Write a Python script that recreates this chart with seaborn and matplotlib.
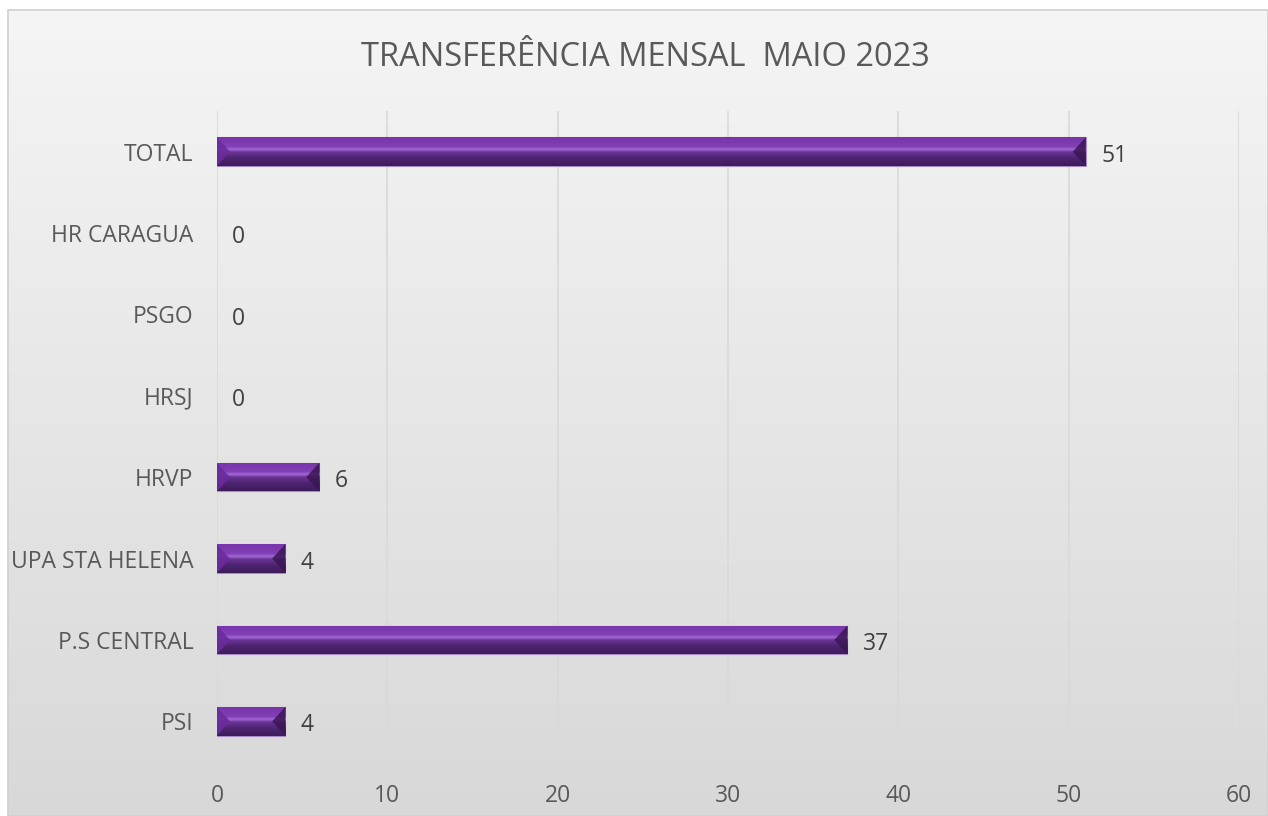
import numpy as np
import pandas as pd
import matplotlib
matplotlib.use('Agg')
import matplotlib.pyplot as plt
import seaborn as sns
from matplotlib.colors import LinearSegmentedColormap
from matplotlib.patches import Rectangle, Polygon

# --- Data ---
categories = ['TOTAL', 'HR CARAGUA', 'PSGO', 'HRSJ', 'HRVP', 'UPA STA HELENA', 'P.S CENTRAL', 'PSI']
values = [51, 0, 0, 0, 6, 4, 37, 4]
x_ticks = [0, 10, 20, 30, 40, 50, 60]

df = pd.DataFrame({'Unidade': categories, 'Transferencias': values})

sns.set_theme(style='white')
plt.rcParams['font.family'] = ['Open Sans', 'DejaVu Sans']

fig = plt.figure(figsize=(12.68, 8.16), dpi=100)
fig.patch.set_facecolor('white')

# Background gradient panel (chart area) with light border
bg = fig.add_axes([8 / 1268, 0, 1 - 8 / 1268, 1 - 10 / 816], zorder=0)
grad = np.linspace(0, 1, 256).reshape(-1, 1)
bg_cmap = LinearSegmentedColormap.from_list('bg', ['#f5f5f5', '#d8d8d8'])
bg.imshow(grad, aspect='auto', cmap=bg_cmap, extent=[0, 1, 0, 1], origin='upper')
bg.set_xlim(0, 1)
bg.set_ylim(0, 1)
bg.axis('off')
bg.add_patch(Rectangle((0, 0), 1, 1, transform=bg.transAxes, fill=False,
                       edgecolor='#d0d0d0', linewidth=1.2, clip_on=False))

ax = fig.add_axes([217 / 1268, 54 / 816, (1239 - 217) / 1268, (762 - 54 - 57) / 816], zorder=1)
ax.set_facecolor('none')

sns.barplot(data=df, x='Transferencias', y='Unidade', order=categories, color='#6f2f9f',
            width=0.35, edgecolor='#a88cc4', linewidth=0.8, ax=ax, zorder=3)

ax.set_xlim(0, 60)
ax.set_ylim(len(categories) - 0.5, -0.5)

# Bevel-like vertical gradient on each bar (top light, bottom dark)
bar_cmap = LinearSegmentedColormap.from_list(
    'bar', [(0.0, '#7a34ac'), (0.33, '#8040b4'), (0.42, '#a468d8'), (0.52, '#6a3494'),
            (0.72, '#4e2472'), (1.0, '#3e1c5a')])
bar_grad = np.linspace(0, 1, 128).reshape(-1, 1)
for p in ax.patches:
    w = p.get_width()
    if w <= 0:
        p.set_linewidth(0)
        continue
    x0, y0 = p.get_x(), p.get_y()
    h = p.get_height()
    im = ax.imshow(bar_grad, aspect='auto', cmap=bar_cmap,
                   extent=[x0, x0 + w, y0 + h, y0], origin='upper', zorder=4)
    im.set_clip_path(p)
    # bevelled ends: wedges at left and right of the bar
    dx = 13 / (ax.get_position().width * fig.bbox.width) * 60
    yc = y0 + h / 2
    left = Polygon([[x0, y0], [x0 + dx, yc], [x0, y0 + h]], closed=True,
                   facecolor='#6a2c9c', edgecolor='none', alpha=0.9, zorder=5)
    right = Polygon([[x0 + w, y0], [x0 + w - dx, yc], [x0 + w, y0 + h]], closed=True,
                    facecolor='#3a1654', edgecolor='none', alpha=0.85, zorder=5)
    ax.add_patch(left)
    ax.add_patch(right)

ax.set_xticks(x_ticks)
ax.grid(axis='x', color='#d9d9d9', linewidth=1.2, zorder=0)
ax.grid(axis='y', visible=False)
for s in ax.spines.values():
    s.set_visible(False)
ax.set_xlabel('')
ax.set_ylabel('')
ax.tick_params(axis='both', length=0, labelsize=16.5, colors='#595959')
ax.tick_params(axis='x', pad=16)
ax.tick_params(axis='y', pad=17)

for i, v in enumerate(values):
    ax.text(v + 0.9, i + 0.05, str(v), va='center', ha='left', fontsize=16.5, color='#404040', zorder=6)

fig.text(645 / 1268, 1 - 58 / 816, 'TRANSFERÊNCIA MENSAL  MAIO 2023', ha='center', va='center',
         fontsize=23.5, color='#595959')

fig.savefig('out.png', dpi=100)
